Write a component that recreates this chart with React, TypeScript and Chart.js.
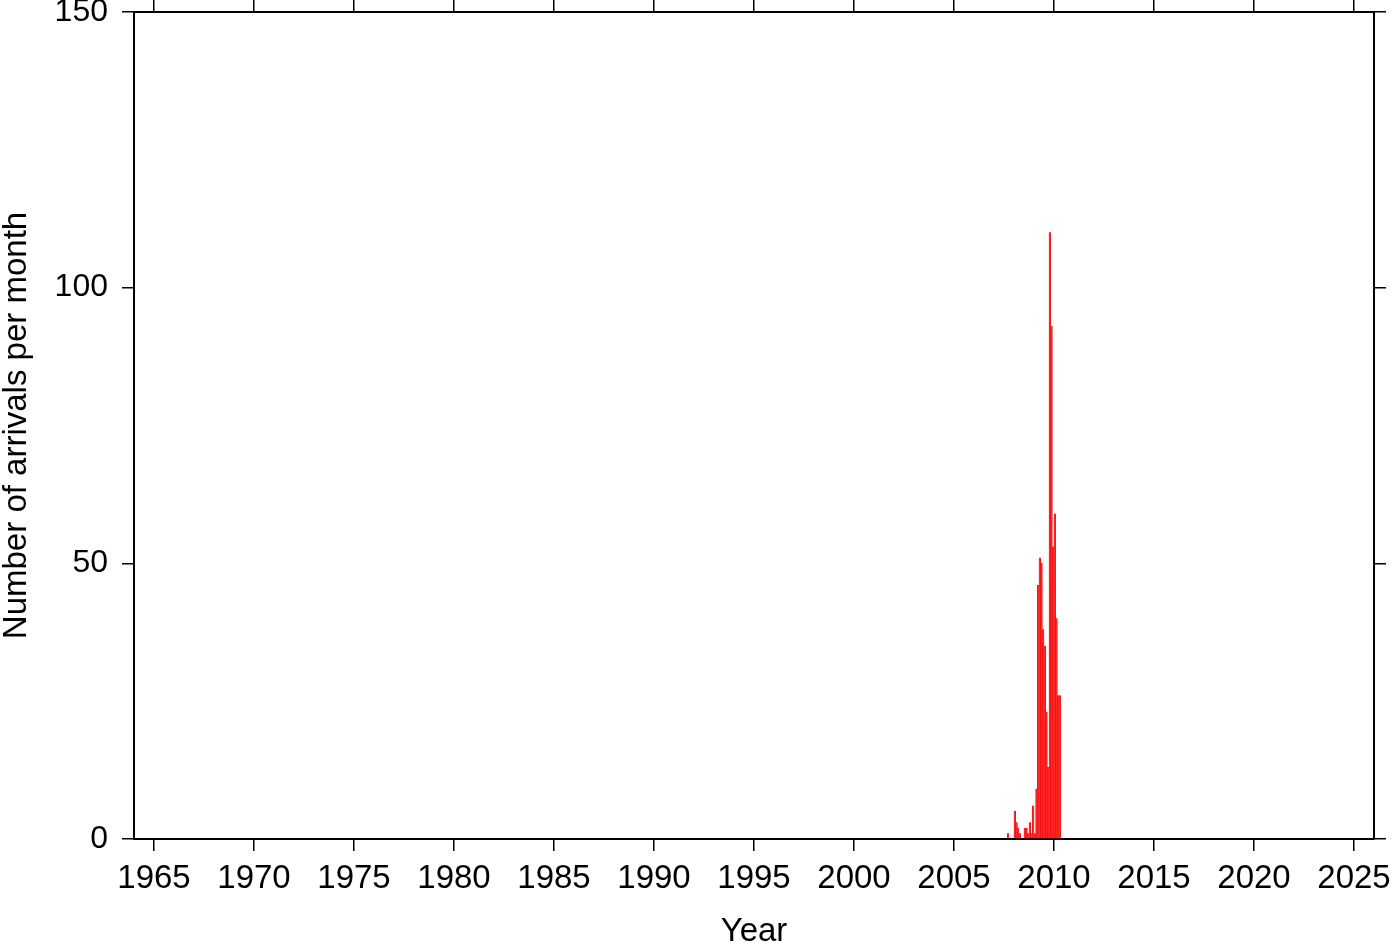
import React, { useEffect, useRef } from "react";
import { Chart, registerables } from "chart.js";

Chart.register(...registerables);

// Monthly bins (year-month) and number of arrivals in each month
const months = [
  "2007-09", "2007-10", "2007-11", "2007-12",
  "2008-01", "2008-02", "2008-03", "2008-04", "2008-05", "2008-06",
  "2008-07", "2008-08", "2008-09", "2008-10", "2008-11", "2008-12",
  "2009-01", "2009-02", "2009-03", "2009-04", "2009-05", "2009-06",
  "2009-07", "2009-08", "2009-09", "2009-10", "2009-11", "2009-12",
  "2010-01", "2010-02", "2010-03", "2010-04",
];
const arrivals = [
  1, 0, 0, 0,
  5, 3, 2, 1, 0, 0,
  2, 2, 1, 3, 1, 6,
  1, 9, 46, 51, 50, 38,
  35, 23, 13, 110, 93, 53,
  59, 40, 26, 26,
];
const yearTicks = [1965, 1970, 1975, 1980, 1985, 1990, 1995, 2000, 2005, 2010, 2015, 2020, 2025];
const countTicks = [0, 50, 100, 150];
const xRange = [1964, 2026];
const yRange = [0, 150];

const FONT = "'Liberation Sans', Arial, Helvetica, sans-serif";

export default function App() {
  const ref = useRef<HTMLCanvasElement | null>(null);

  useEffect(() => {
    if (!ref.current) return;
    const points = months.map((m, i) => {
      const [y, mo] = m.split("-").map(Number);
      return { x: y + (mo - 1 + 0.5) / 12, y: arrivals[i] };
    });
    const setX = (s: any) => {
      s.ticks = yearTicks.map((v) => ({ value: v }));
    };
    const setY = (s: any) => {
      s.ticks = countTicks.map((v) => ({ value: v }));
    };
    const gridOpts = {
      drawOnChartArea: false,
      drawTicks: true,
      tickLength: 12,
      color: "#000",
      lineWidth: 1.5,
      offset: false,
    };
    const chart = new Chart(ref.current, {
      type: "bar",
      data: {
        datasets: [
          {
            data: points,
            backgroundColor: "rgb(255,40,40)",
            borderColor: "rgb(235,0,0)",
            borderWidth: 0.4,
            barPercentage: 1,
            categoryPercentage: 1,
          },
        ],
      },
      options: {
        animation: false,
        responsive: false,
        maintainAspectRatio: false,
        layout: { padding: 0 },
        plugins: { legend: { display: false }, tooltip: { enabled: false } },
        scales: {
          x: {
            type: "linear",
            position: "bottom",
            min: xRange[0],
            max: xRange[1],
            offset: false,
            afterBuildTicks: setX,
            afterFit: (s: any) => {
              s.height = 103;
              s.paddingLeft = 0;
              s.paddingRight = 0;
            },
            grid: gridOpts,
            border: { display: true, color: "#000", width: 2 },
            ticks: {
              color: "#000",
              font: { family: FONT, size: 33 },
              padding: 8,
              maxRotation: 0,
              autoSkip: false,
              callback: (v: any) => String(v),
            },
            title: {
              display: true,
              text: "Year",
              color: "#000",
              font: { family: FONT, size: 33, lineHeight: 0.6 },
              padding: { top: 0, bottom: 0 },
            },
          },
          x2: {
            type: "linear",
            position: "top",
            min: xRange[0],
            max: xRange[1],
            offset: false,
            afterBuildTicks: setX,
            afterFit: (s: any) => {
              s.height = 12;
              s.paddingLeft = 0;
              s.paddingRight = 0;
            },
            grid: gridOpts,
            border: { display: true, color: "#000", width: 2 },
            ticks: { display: false },
          },
          y: {
            type: "linear",
            position: "left",
            min: yRange[0],
            max: yRange[1],
            afterBuildTicks: setY,
            afterFit: (s: any) => {
              s.width = 134;
              s.paddingTop = 0;
              s.paddingBottom = 0;
            },
            grid: gridOpts,
            border: { display: true, color: "#000", width: 2 },
            ticks: {
              color: "#000",
              font: { family: FONT, size: 32 },
              padding: 14,
              callback: (v: any) => String(v),
            },
            title: {
              display: true,
              text: "Number of arrivals per month",
              color: "#000",
              font: { family: FONT, size: 33, lineHeight: 1 },
              padding: { top: 0, bottom: 0 },
            },
          },
          y2: {
            type: "linear",
            position: "right",
            min: yRange[0],
            max: yRange[1],
            afterBuildTicks: setY,
            afterFit: (s: any) => {
              s.width = 26;
              s.paddingTop = 0;
              s.paddingBottom = 0;
            },
            grid: gridOpts,
            border: { display: true, color: "#000", width: 2 },
            ticks: { display: false },
          },
        },
      },
    } as any);
    return () => chart.destroy();
  }, []);

  return (
    <div style={{ position: "absolute", left: 0, top: 0, width: 1400, height: 942, background: "#fff" }}>
      <canvas ref={ref} width={1400} height={942} style={{ display: "block", width: 1400, height: 942 }} />
    </div>
  );
}
